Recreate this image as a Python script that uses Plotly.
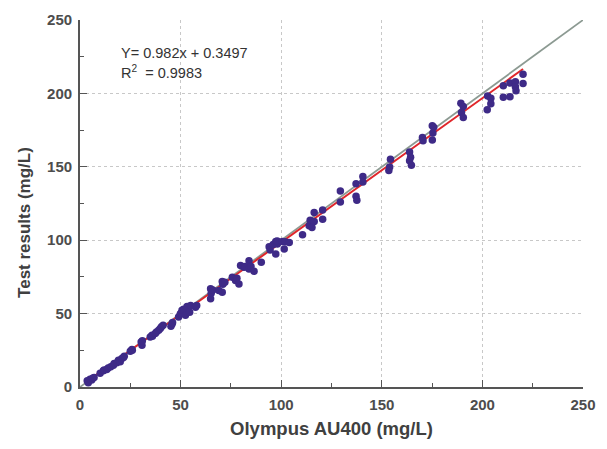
import plotly.graph_objects as go

# Data (Olympus AU400 vs test results, mg/L)
olympus = [3.6, 4.1, 5.0, 5.8, 6.3, 7.0, 10.0, 11.6, 12.0, 13.3, 14.0, 15.3, 16.6, 17.0,
           18.3, 19.1, 20.0, 20.8, 21.6, 22.0, 25.0, 25.8, 26.0, 30.4, 30.8, 31.0, 34.9,
           35.8, 36.0, 37.4, 38.0, 39.1, 39.9, 40.5, 41.3, 45.2, 45.7, 46.0, 49.0, 49.9,
           50.5, 50.7, 51.5, 52.4, 53.2, 54.5, 55.0, 57.4, 58.0, 64.9, 64.9, 65.2, 66.0,
           69.0, 70.7, 70.7, 71.0, 72.0, 75.7, 77.3, 78.0, 79.0, 79.8, 81.5, 82.0, 84.0,
           84.0, 85.0, 86.5, 90.1, 94.0, 94.5, 96.0, 97.3, 98.1, 97.3, 98.0, 100.6, 101.5,
           102.0, 104.0, 110.6, 113.9, 114.4, 115.3, 116.4, 116.4, 120.6, 120.6, 129.4,
           129.4, 137.2, 137.2, 137.6, 140.6, 140.6, 154.3, 153.9, 153.5, 163.8, 164.3,
           163.8, 164.7, 170.2, 170.5, 175.1, 175.8, 175.4, 175.1, 189.3, 190.5, 189.6,
           190.5, 202.6, 204.2, 204.2, 202.4, 210.4, 210.4, 213.7, 213.7, 216.4, 216.4,
           216.7, 220.2, 220.2]
test_results = [4.3, 2.9, 5.2, 4.7, 5.9, 6.5, 9.3, 11.0, 11.5, 12.0, 13.0, 13.8, 14.9, 16.0,
                16.5, 18.3, 17.2, 19.4, 20.1, 21.0, 24.4, 25.5, 25.0, 30.7, 28.5, 31.5, 34.1,
                35.2, 34.5, 36.4, 37.5, 38.6, 39.8, 41.0, 42.0, 41.3, 42.7, 44.0, 47.6, 49.9,
                50.5, 52.2, 53.0, 48.8, 54.9, 51.0, 55.5, 54.4, 55.5, 60.1, 66.9, 63.9, 66.0,
                65.7, 64.6, 71.8, 70.0, 71.3, 74.7, 72.5, 74.0, 70.2, 82.7, 81.5, 82.0, 86.0,
                80.4, 82.0, 78.8, 84.9, 95.5, 93.3, 97.0, 99.1, 97.4, 90.6, 99.5, 99.1, 94.0,
                99.0, 98.5, 103.7, 109.8, 113.6, 108.6, 118.8, 112.7, 120.6, 114.3, 133.5,
                126.0, 138.4, 130.0, 127.2, 143.4, 139.6, 155.1, 149.9, 147.5, 160.1, 156.5,
                154.2, 151.1, 170.0, 167.8, 178.0, 177.0, 173.0, 168.3, 193.3, 191.0, 187.0,
                183.6, 198.3, 196.7, 193.0, 188.8, 205.2, 197.3, 207.0, 197.8, 208.0, 204.6,
                201.8, 213.0, 206.7]

slope = 0.982
intercept = 0.3497
r_squared = 0.9983
axis_range = [0, 250]
tick_vals = [0, 25, 50, 75, 100, 125, 150, 175, 200, 225, 250]
tick_text = ["0", "", "50", "", "100", "", "150", "", "200", "", "250"]
grid_ticks = [50, 100, 150, 200]

fit_x = [min(olympus), max(olympus)]
fit_y = [slope * v + intercept for v in fit_x]

fig = go.Figure()

# identity line
fig.add_trace(go.Scatter(x=axis_range, y=axis_range, mode="lines",
                         line=dict(color="#8c9a92", width=1.8),
                         hoverinfo="skip", showlegend=False))
# regression line
fig.add_trace(go.Scatter(x=fit_x, y=fit_y, mode="lines",
                         line=dict(color="#e0262a", width=2),
                         hoverinfo="skip", showlegend=False))
# points
fig.add_trace(go.Scatter(x=olympus, y=test_results, mode="markers",
                         marker=dict(color="#3e2a87", size=7.5, line=dict(width=0)),
                         showlegend=False))

FONT = "Liberation Sans, Arial, sans-serif"
tick_font = dict(family=FONT, size=15, color="#4d4d4d", weight="bold")

axis_common = dict(
    range=axis_range, tickmode="array", tickvals=tick_vals, ticktext=tick_text,
    ticks="inside", ticklen=4, tickwidth=1.2, tickcolor="#555",
    showgrid=False, zeroline=False, showline=True, linecolor="#555", linewidth=1.8,
    tickfont=tick_font, ticklabelstandoff=3, automargin=False,
    minor=dict(tickmode="array", tickvals=grid_ticks, showgrid=True, gridcolor="#c8c8c8",
               griddash="dot", gridwidth=1, ticks="inside", ticklen=7,
               tickwidth=1.2, tickcolor="#555"),
)

fig.update_layout(
    width=607, height=449,
    margin=dict(l=72, r=32, t=12, b=70),
    paper_bgcolor="white", plot_bgcolor="white",
    showlegend=False,
    xaxis=dict(axis_common,
               title=dict(text="<b>Olympus AU400 (mg/L)</b>",
                          font=dict(family=FONT, size=18.5, color="#404040"), standoff=10)),
    yaxis=dict(axis_common),
)

fig.add_annotation(xref="paper", yref="paper", x=0, y=0.447, xshift=-55,
                   xanchor="center", yanchor="middle", textangle=-90,
                   text="<b>Test results (mg/L)</b>", showarrow=False,
                   font=dict(family=FONT, size=17, color="#404040"))

ann_font = dict(family=FONT, size=14.5, color="#333")
fig.add_annotation(x=19.6, y=227.4, xanchor="left", yanchor="middle",
                   text=f"Y= {slope}x + {intercept}", showarrow=False, font=ann_font)
fig.add_annotation(x=19.6, y=214.5, xanchor="left", yanchor="middle",
                   text=f"R<sup>2</sup>\u00a0\u00a0= {r_squared}", showarrow=False, font=ann_font)

fig.write_html("out.html")
